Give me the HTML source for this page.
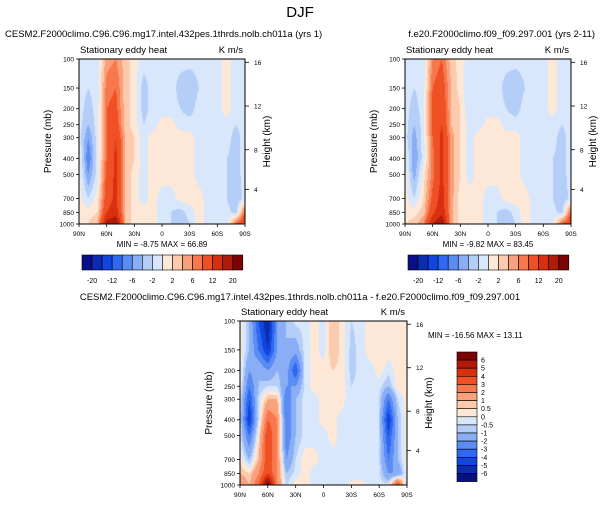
<!DOCTYPE html>
<html><head><meta charset="utf-8">
<style>
body{margin:0;background:#fff;width:601px;height:505px;overflow:hidden;position:relative;font-family:"Liberation Sans",sans-serif;}
svg{position:absolute;left:0;top:0}
canvas{position:absolute}
</style></head><body>
<canvas id="c1" style="left:79px;top:59px" width="166" height="165"></canvas>
<canvas id="c2" style="left:405px;top:59px" width="166" height="165"></canvas>
<canvas id="c3" style="left:240px;top:321px" width="167" height="164"></canvas>
<svg id="s" width="601" height="505"></svg>
<script>
const lats=[90,80,70,60,50,40,30,20,10,0,-10,-20,-30,-40,-50,-60,-70,-80,-90];
const levels=[100,150,200,250,300,400,500,700,850,1000];
const pressureTicks=[100,150,200,250,300,400,500,700,850,1000];
const heightTicks=[16,12,8,4];
const heightTickFrac=[0.02,0.285,0.55,0.79];
const latTicks=["90N","60N","30N","0","30S","60S","90S"];
const levelsAbs=[-20,-16,-12,-8,-6,-4,-2,0,2,4,6,8,12,16,20];
const levelsDiff=[-6,-5,-4,-3,-2,-1,-0.5,0,0.5,1,2,3,4,5,6];
const absLabels=["-20","-12","-6","-2","2","6","12","20"];
const diffLabels=["6","5","4","3","2","1","0.5","0","-0.5","-1","-2","-3","-4","-5","-6"];
const colors=['#0a0f87','#0b2cb0','#1145e0','#2f68f2','#5a8cf3','#8aaef5','#b5cef8','#d8e7fb','#fde8d8','#fccbad','#f9a07c','#f6784c','#ef5024','#d8300f','#b01a08','#7a0303'];
const field1=[
[-1,-1,-1,5,6,3,1,-1,-1,-1,-1,-1,-1,-1,-1,-1,1,-1,-1],
[-1,-2,-1,7,8,3,1,-3,-1,-1,-1,-3,-4,-2,-1,-1,1,-1,-1],
[-1,-3,-1,8,9,3,1,-3,-1,-1,-1,-2,-3,-1,-1,-1,1,-1,-1],
[-1,-4,-1,8,10,3,1,-2,-1,1,1,-1,-1,-1,-1,-1,-1,-2,-1],
[-1,-6,-1,8,12,4,2,-1,1,1,1,1,1,-1,-1,-1,-1,-3,-1],
[1,-8,-1,8,13,4,2,-1,1,1,1,1,1,-1,-1,-1,-2,-3,-1],
[1,-6,-1,9,13,4,1,-1,1,1,1,1,1,-1,-1,-1,-2,-3,-1],
[1,-2,1,10,13,4,1,-1,1,-1,-1,1,1,1,-1,-1,-2,-4,-1],
[1,1,2,12,14,4,1,1,1,-1,-2,-3,-1,1,-1,-1,-1,-3,8],
[1,2,4,18,20,4,1,1,1,-1,-2,-4,-2,1,-1,-1,-1,8,12]];
const field2=[
[-1,-1,-1,6,8,3,1,-1,-1,-1,-1,-1,-1,-1,-1,-1,1,-1,-1],
[-1,-2,-1,8,10,4,1,-2,-1,-1,-1,-3,-4,-2,-1,-1,1,-1,-1],
[-1,-3,-1,9,11,4,2,-2,-1,-1,-1,-2,-3,-1,-1,-1,1,-1,-1],
[-1,-4,-1,9,12,4,2,-1,-1,1,1,-1,-1,-1,-1,-1,-1,-2,-1],
[-1,-5,-1,8,13,5,2,-1,1,1,1,1,1,-1,-1,-1,-1,-3,-1],
[1,-6,-1,7,13,5,2,-1,1,1,1,1,1,-1,-1,-1,-2,-3,-1],
[1,-5,1,7,13,5,2,-1,1,1,1,1,1,-1,-1,-1,-2,-3,-1],
[1,-2,2,9,14,5,1,1,1,-1,-1,1,1,1,-1,-1,-2,-4,-1],
[1,1,3,11,15,5,1,1,1,-1,-2,-3,-1,1,-1,-1,-1,-3,8],
[2,3,6,16,20,5,1,1,1,-1,-2,-4,-2,1,-1,-1,-1,8,12]];
const field3=[
[0.3,-1,-4,-6,-2,-1,-0.3,-0.3,0.3,-0.3,1,0.3,-0.5,-0.3,0.3,0.3,0.3,0.3,0.3],
[0.3,-1,-3,-5,-2,-1,-1.5,-0.3,0.3,-0.3,1,0.3,-0.7,-0.3,0.3,0.3,0.3,0.3,0.3],
[0.3,-2,-1,-2,-1,-1.5,-4,-0.3,0.3,0.3,0.5,0.3,-0.7,-0.3,-0.3,0.3,-0.3,0.3,0.3],
[0.3,-3,-1,-0.5,-0.5,-2,-2,-0.3,0.3,0.3,0.3,0.3,-0.5,-0.3,-0.3,-0.3,-1,0.3,0.3],
[-0.3,-4,-0.5,1,1,-3,-1,-0.3,-0.3,0.3,0.3,0.3,-0.5,-0.3,-0.3,-0.5,-3,-0.5,0.3],
[-0.3,-5,-0.5,3,2,-3,-1,-0.3,-0.3,0.3,0.3,-0.3,-0.5,-0.3,-0.3,-0.5,-5,-1,0.3],
[-0.3,-3,0.3,4,2,-3,-1,-0.3,-0.3,-0.3,0.3,-0.3,-0.5,-0.3,-0.3,-0.5,-4,-1,0.3],
[0.3,-1,1,4,2,-2,-0.5,0.3,0.3,-0.3,-0.3,-0.3,-0.5,-0.3,-0.3,-0.5,-3,-1,0.3],
[1,0.5,2,4,2,-1,-0.3,0.3,-0.3,-0.3,-0.3,-0.3,-0.5,-0.3,-0.3,-0.3,-2,-2,0.3],
[2,1,3,7,2,-0.5,0.3,0.3,-0.3,-0.3,-0.3,-0.3,0.3,0.3,-0.3,-0.3,-0.3,4,-1]];

const S=document.getElementById('s');
const NS='http://www.w3.org/2000/svg';
function el(tag,attrs,txt){const e=document.createElementNS(NS,tag);for(const k in attrs)e.setAttribute(k,attrs[k]);if(txt!==undefined)e.textContent=txt;S.appendChild(e);return e;}
function colorFor(v,lv){let i=0;while(i<lv.length&&v>=lv[i])i++;return colors[i];}
function yFrac(p){return Math.log(p/100)/Math.log(10);}

function drawField(id,field,lv,w,h){
  const ctx=document.getElementById(id).getContext('2d');
  const fr=levels.map(yFrac);
  for(let py=0;py<h;py++){
    const f=(py+0.5)/h;let r=0;while(r<fr.length-2&&f>fr[r+1])r++;
    const t=Math.min(1,Math.max(0,(f-fr[r])/(fr[r+1]-fr[r])));
    for(let px=0;px<w;px++){
      const lat=90-180*(px+0.5)/w;const cf=(90-lat)/10;let c=Math.min(17,Math.floor(cf));const u=cf-c;
      const v0=field[r][c]*(1-u)+field[r][c+1]*u;
      const v1=field[r+1][c]*(1-u)+field[r+1][c+1]*u;
      ctx.fillStyle=colorFor(v0*(1-t)+v1*t,lv);ctx.fillRect(px,py,1,1);
    }
  }
}

function axes(x0,y0,w,h){
  let e=el('rect',{x:x0,y:y0,width:w,height:h,fill:'none',stroke:'#000','stroke-width':1});
  
  e=el('text',{x:x0+1,y:y0-6,'font-size':9.5},'Stationary eddy heat');
  
  e=el('text',{x:x0+w-2,y:y0-6,'font-size':9.5,'text-anchor':'end'},'K m/s');
  
  pressureTicks.forEach(p=>{const y=y0+h*yFrac(p);
    el('line',{x1:x0-3,x2:x0,y1:y,y2:y,stroke:'#000','stroke-width':0.8});
    e=el('text',{x:x0-5,y:y+2.5,'font-size':6.5,'text-anchor':'end'},String(p));
    });
  heightTicks.forEach((k,i)=>{const y=y0+h*heightTickFrac[i];
    el('line',{x1:x0+w,x2:x0+w+4,y1:y,y2:y,stroke:'#000','stroke-width':0.8});
    e=el('text',{x:x0+w+9,y:y+2.5,'font-size':6.5},String(k));
    });
  latTicks.forEach((l,i)=>{const x=x0+w*i/6;
    el('line',{x1:x,x2:x,y1:y0+h,y2:y0+h+3,stroke:'#000','stroke-width':0.8});
    e=el('text',{x:x,y:y0+h+12,'font-size':6.5,'text-anchor':'middle'},l);
    });
  e=el('text',{x:0,y:0,'font-size':10,'text-anchor':'middle',transform:`translate(${x0-28},${y0+h/2}) rotate(-90)`},'Pressure (mb)');
  
  e=el('text',{x:0,y:0,'font-size':10,'text-anchor':'middle',transform:`translate(${x0+w+25},${y0+h/2}) rotate(-90)`},'Height (km)');
  
}
function hbar(x0,y0){
  const bw=10.05;
  colors.forEach((c,i)=>{const e=el('rect',{x:x0+i*bw,y:y0,width:bw,height:15,fill:c,stroke:'#000','stroke-width':0.6});
    });
  absLabels.forEach((l,i)=>{const e=el('text',{x:x0+bw*(1+2*i),y:y0+28,'font-size':7,'text-anchor':'middle'},l);
    });
}
drawField('c1',field1,levelsAbs,166,165);
drawField('c2',field2,levelsAbs,166,165);
drawField('c3',field3,levelsDiff,167,164);
let t=el('text',{x:300,y:17,'font-size':15,'text-anchor':'middle'},'DJF');

t=el('text',{x:5,y:37,'font-size':9.5},'CESM2.F2000climo.C96.C96.mg17.intel.432pes.1thrds.nolb.ch011a (yrs 1)');

t=el('text',{x:595,y:37,'font-size':9.5,'text-anchor':'end'},'f.e20.F2000climo.f09_f09.297.001 (yrs 2-11)');

t=el('text',{x:300,y:300,'font-size':9.5,'text-anchor':'middle'},'CESM2.F2000climo.C96.C96.mg17.intel.432pes.1thrds.nolb.ch011a - f.e20.F2000climo.f09_f09.297.001');

axes(79,59,166,165);axes(405,59,166,165);axes(240,321,167,164);
t=el('text',{x:162,y:247,'font-size':8,'text-anchor':'middle'},'MIN = -8.75  MAX = 66.89');

t=el('text',{x:488,y:247,'font-size':8,'text-anchor':'middle'},'MIN = -9.82  MAX = 83.45');

t=el('text',{x:428,y:338,'font-size':8},'MIN = -16.56  MAX = 13.11');

hbar(82,255);hbar(408,255);
const bh=8.1;
colors.slice().reverse().forEach((c,i)=>{const e=el('rect',{x:457,y:352+i*bh,width:20,height:bh,fill:c,stroke:'#000','stroke-width':0.6});
  });
diffLabels.forEach((l,i)=>{const e=el('text',{x:481,y:352+bh*(i+1)+2.5,'font-size':7},l);
  });
</script>
</body></html>
